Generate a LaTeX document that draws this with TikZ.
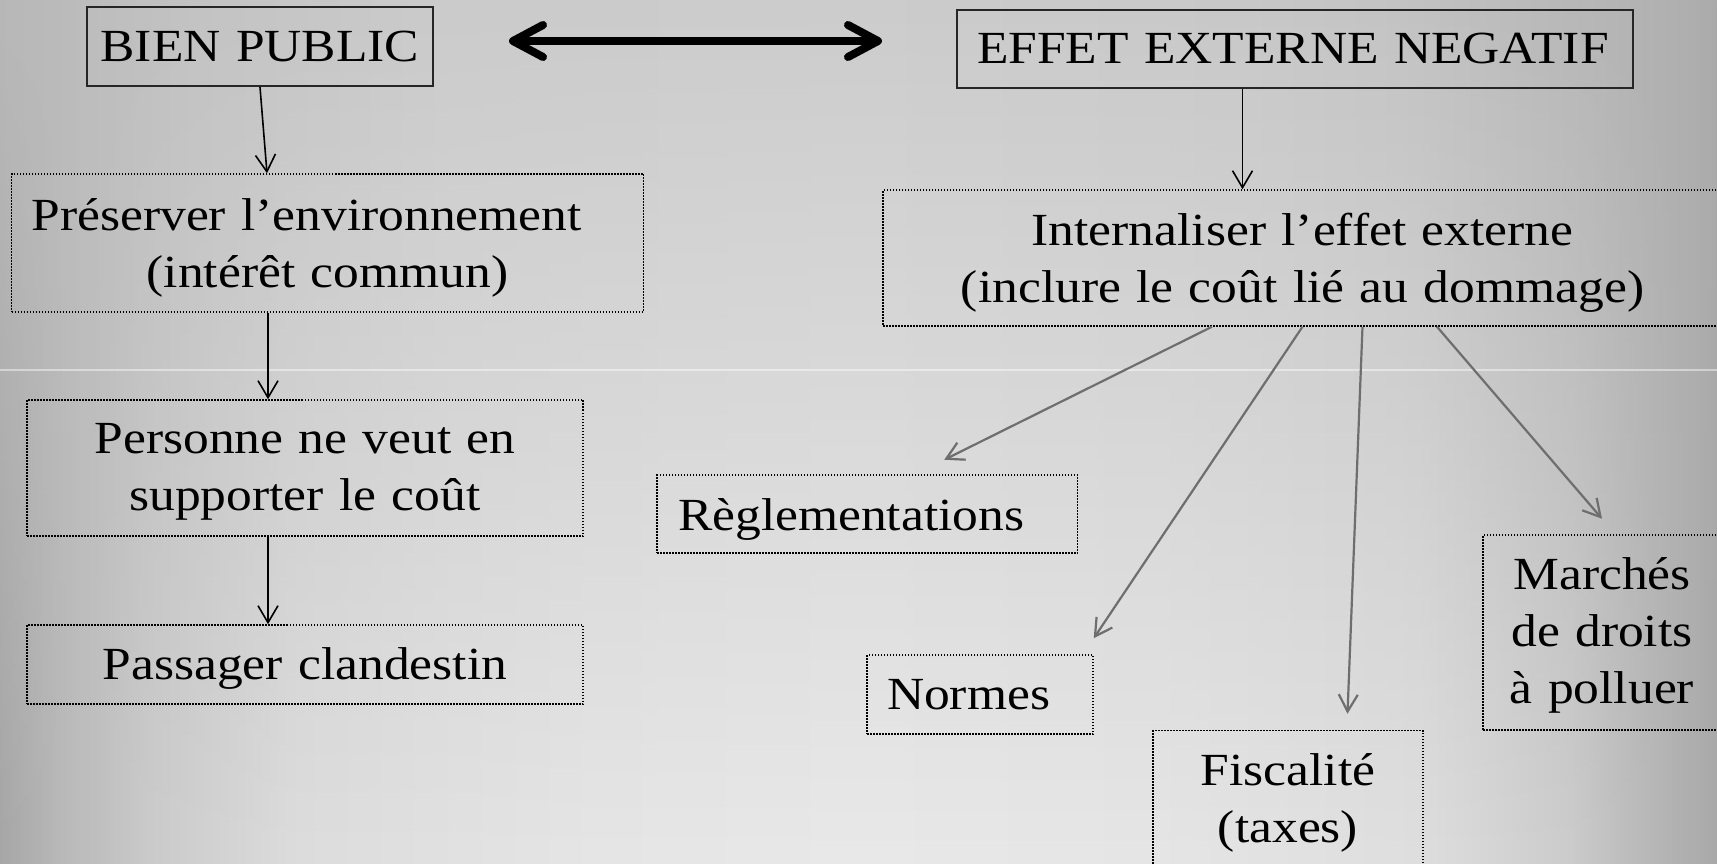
\documentclass[tikz,border=0pt]{standalone}
\usepackage{fontspec}
\setmainfont{Liberation Serif}[FakeStretch=1.12]
\usetikzlibrary{arrows.meta,calc,fadings}
% bottom profile colours
\definecolor{bA}{gray}{0.651}
\definecolor{bB}{gray}{0.722}
\definecolor{bC}{gray}{0.796}
\definecolor{bD}{gray}{0.867}
\definecolor{bE}{gray}{0.902}
\definecolor{bF}{gray}{0.914}
\definecolor{bG}{gray}{0.902}
\definecolor{bH}{gray}{0.875}
\definecolor{bI}{gray}{0.800}
\definecolor{bJ}{gray}{0.722}
\definecolor{bK}{gray}{0.659}
% top profile colours
\definecolor{tA}{gray}{0.722}
\definecolor{tB}{gray}{0.765}
\definecolor{tC}{gray}{0.796}
\definecolor{tD}{gray}{0.800}
\definecolor{tE}{gray}{0.784}
\definecolor{tF}{gray}{0.765}
\definecolor{tG}{gray}{0.714}
\definecolor{tH}{gray}{0.675}
\definecolor{arrgray}{HTML}{6E6E6E}
\pgfdeclarehorizontalshading{botprof}{100bp}{color(0bp)=(bA); color(25bp)=(bA); color(26.75bp)=(bB); color(29.37bp)=(bC); color(33.74bp)=(bD); color(42.47bp)=(bE); color(50bp)=(bF); color(58.49bp)=(bG); color(66.26bp)=(bH); color(70.72bp)=(bI); color(73.05bp)=(bJ); color(75bp)=(bK); color(100bp)=(bK)}
\pgfdeclarehorizontalshading{topprof}{100bp}{color(0bp)=(tA); color(25bp)=(tA); color(30.82bp)=(tB); color(38.1bp)=(tC); color(50bp)=(tD); color(61.4bp)=(tE); color(65.77bp)=(tF); color(71.59bp)=(tG); color(75bp)=(tH); color(100bp)=(tH)}
\tikzfading[name=fadetop, top color=transparent!0, bottom color=transparent!100]
\tikzset{
  txt/.style={font=\fontsize{46pt}{57pt}\selectfont, text=black},
  solidbox/.style={txt, draw=black!85, line width=2pt, inner xsep=0pt, inner ysep=0pt, anchor=base},
  dotbox/.style={txt, draw=black, line width=1.5pt, dash pattern=on 1.5pt off 1.5pt, inner xsep=0pt, inner ysep=0pt, anchor=base},
  blk/.style={draw=black, line width=1.6pt, -{Straight Barb[length=17pt,width=20pt]}},
  gry/.style={draw=arrgray, line width=2.2pt, -{Straight Barb[length=17pt,width=19pt]}},
  dbl/.style={draw=black, line width=8pt, {Straight Barb[length=30pt,width=32pt,round]}-{Straight Barb[length=30pt,width=32pt,round]}},
}
\begin{document}
\begin{tikzpicture}[x=1pt,y=-1pt]
\useasboundingbox (0,0) rectangle (1717,864);
\shade[shading=botprof] (0,-4) rectangle (1717,868);
\shade[shading=topprof, path fading=fadetop] (0,-4) rectangle (1717,868);
\draw[white, opacity=0.45, line width=1.2pt] (0,370) -- (1717,370);

% left column
\node[solidbox, text width=346pt, align=center, text height=55pt, text depth=24pt] (bien) at (260,62) {\mbox{BIEN PUBLIC}};
\node[dotbox, text width=632pt, align=center, text height=56pt, text depth=82pt] (pres) at (327.5,230)
  {\makebox[592pt][l]{Préserver l’environnement}\\(intérêt commun)};
\node[dotbox, text width=556pt, align=center, text height=53pt, text depth=83pt] (pers) at (305,453)
  {Personne ne veut en\\supporter le coût};
\node[dotbox, text width=556pt, align=center, text height=54pt, text depth=25pt] (pass) at (305,679)
  {Passager clandestin};

% right column
\node[solidbox, inner xsep=20pt, text width=636pt, align=left, text height=54pt, text depth=24pt] (effet) at (1295,64)
  {\mbox{EFFET EXTERNE NEGATIF}};
\node[dotbox, text width=839pt, align=center, text height=55pt, text depth=81pt] (intern) at (1302.5,245)
  {Internaliser l’effet externe\\(inclure le coût lié au dommage)};
\node[dotbox, inner xsep=21pt, text width=378.5pt, align=left, text height=55pt, text depth=23pt] (regl) at (867.25,530)
  {Règlementations};
\node[dotbox, inner xsep=20pt, text width=186pt, align=left, text height=54pt, text depth=25pt] (norm) at (980,709)
  {Normes};
\node[dotbox, text width=270pt, align=center, text height=54.5pt, text depth=81pt] (fisc) at (1288,785)
  {Fiscalité\\(taxes)};
\node[dotbox, text width=238pt, align=center, text height=54pt, text depth=141pt] (march) at (1602,589)
  {Marchés\\de droits\\à polluer};

% connectors
\draw[dbl] ($(bien.east)+(75,-5.5)$) -- ($(effet.west)+(-74,-8)$);
\draw[blk] (bien.south) -- ($(pres.north)+(-60.5,0)$);
\draw[blk] ($(pres.south)+(-59.5,0)$) -- ($(pers.north)+(-37,0)$);
\draw[blk] ($(pers.south)+(-37,0)$) -- ($(pass.north)+(-37,0)$);
\draw[blk] ($(effet.south)+(-52.5,0)$) -- ($(intern.north)+(-60,0)$);
\draw[gry] ($(intern.south)+(-90.5,0)$) -- ($(regl.north)+(77,-14.5)$);
\draw[gry] (intern.south) -- ($(norm.north east)+(0,-16)$);
\draw[gry] ($(intern.south)+(60,0)$) -- ($(fisc.north)+(59.5,-16)$);
\draw[gry] ($(intern.south)+(134.5,0)$) -- ($(march.north)+(0,-15.5)$);
\end{tikzpicture}
\end{document}
